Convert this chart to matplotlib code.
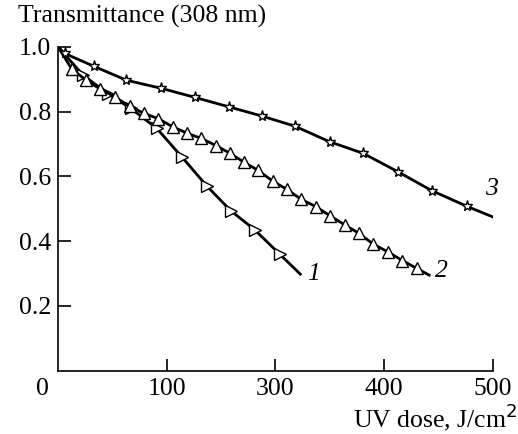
import matplotlib.pyplot as plt

plt.rcParams['font.family'] = 'Liberation Serif'

# curve 1 (right triangles)
dose1 = [0, 23, 46, 67, 91, 114, 137, 159, 181, 204, 223]
trans1 = [1.0, 0.913, 0.855, 0.81, 0.748, 0.66, 0.57, 0.494, 0.435, 0.36, 0.298]

# curve 2 (up triangles)
dose2 = [0, 12.6, 25.8, 38.7, 52.5, 66, 79, 92.4, 105.6, 119, 132, 145.5, 158.4,
         171.5, 184, 197.7, 210.6, 223.8, 237.6, 250.5, 264, 277, 290, 303.5,
         317, 330, 341.6]
trans2 = [1.0, 0.932, 0.897, 0.87, 0.845, 0.816, 0.795, 0.778, 0.753, 0.733,
          0.717, 0.695, 0.671, 0.643, 0.619, 0.585, 0.56, 0.529, 0.506, 0.478,
          0.45, 0.424, 0.391, 0.367, 0.34, 0.316, 0.295]

# curve 3 (stars)
dose3 = [0, 6, 33, 63, 95, 126, 157, 188, 218, 250, 281, 313, 344, 376, 400]
trans3 = [1.0, 0.98, 0.94, 0.897, 0.872, 0.844, 0.815, 0.786, 0.755, 0.707,
          0.671, 0.614, 0.556, 0.508, 0.475]

xtick_pos = [100, 200, 300, 400]
xtick_labels = ['100', '300', '400', '500']
ytick_pos = [0.2, 0.4, 0.6, 0.8, 1.0]
ytick_labels = ['0.2', '0.4', '0.6', '0.8', '1.0']

fs = 18.5

fig = plt.figure(figsize=(5.18, 4.34), dpi=100)
ax = fig.add_axes([0.112, 0.146, 0.839, 0.746])

# lines, then markers (first/last points carry no marker)
ax.plot(dose1, trans1, color='black', lw=2)
ax.plot(dose1[1:-1], trans1[1:-1], ls='none', marker='>', ms=9, mfc='white', mec='black', mew=1)
ax.plot(dose2, trans2, color='black', lw=2)
ax.plot(dose2[1:-1], trans2[1:-1], ls='none', marker='^', ms=9, mfc='white', mec='black', mew=1)
ax.plot(dose3, trans3, color='black', lw=2)
ax.plot(dose3[1:-1], trans3[1:-1], ls='none', marker='*', ms=8, mfc='white', mec='black', mew=1)

ax.text(235, 0.299, '1', fontsize=fs, style='italic', ha='center', va='center')
ax.text(353, 0.309, '2', fontsize=fs, style='italic', ha='center', va='center')
ax.text(399, 0.56, '3', fontsize=fs, style='italic', ha='center', va='center')

ax.set_xlim(0, 400)
ax.set_ylim(0, 1.0)
ax.set_xticks(xtick_pos)
ax.set_xticklabels(xtick_labels)
ax.set_yticks(ytick_pos)
ax.set_yticklabels(ytick_labels)
ax.tick_params(direction='in', length=9, width=1.2, labelsize=fs, pad=5)
ax.spines['top'].set_visible(False)
ax.spines['right'].set_visible(False)
ax.spines['left'].set_linewidth(1.2)
ax.spines['bottom'].set_linewidth(1.2)

# shared origin label
ax.text(-14.3, -0.022, '0', fontsize=fs, ha='center', va='top')

fig.text(0.035, 0.961, 'Transmittance (308 nm)', fontsize=fs, ha='left', va='center')
fig.text(0.998, 0.003, 'UV dose, J/cm$^2$', fontsize=fs, ha='right', va='bottom')

fig.savefig('out.png', dpi=100)
